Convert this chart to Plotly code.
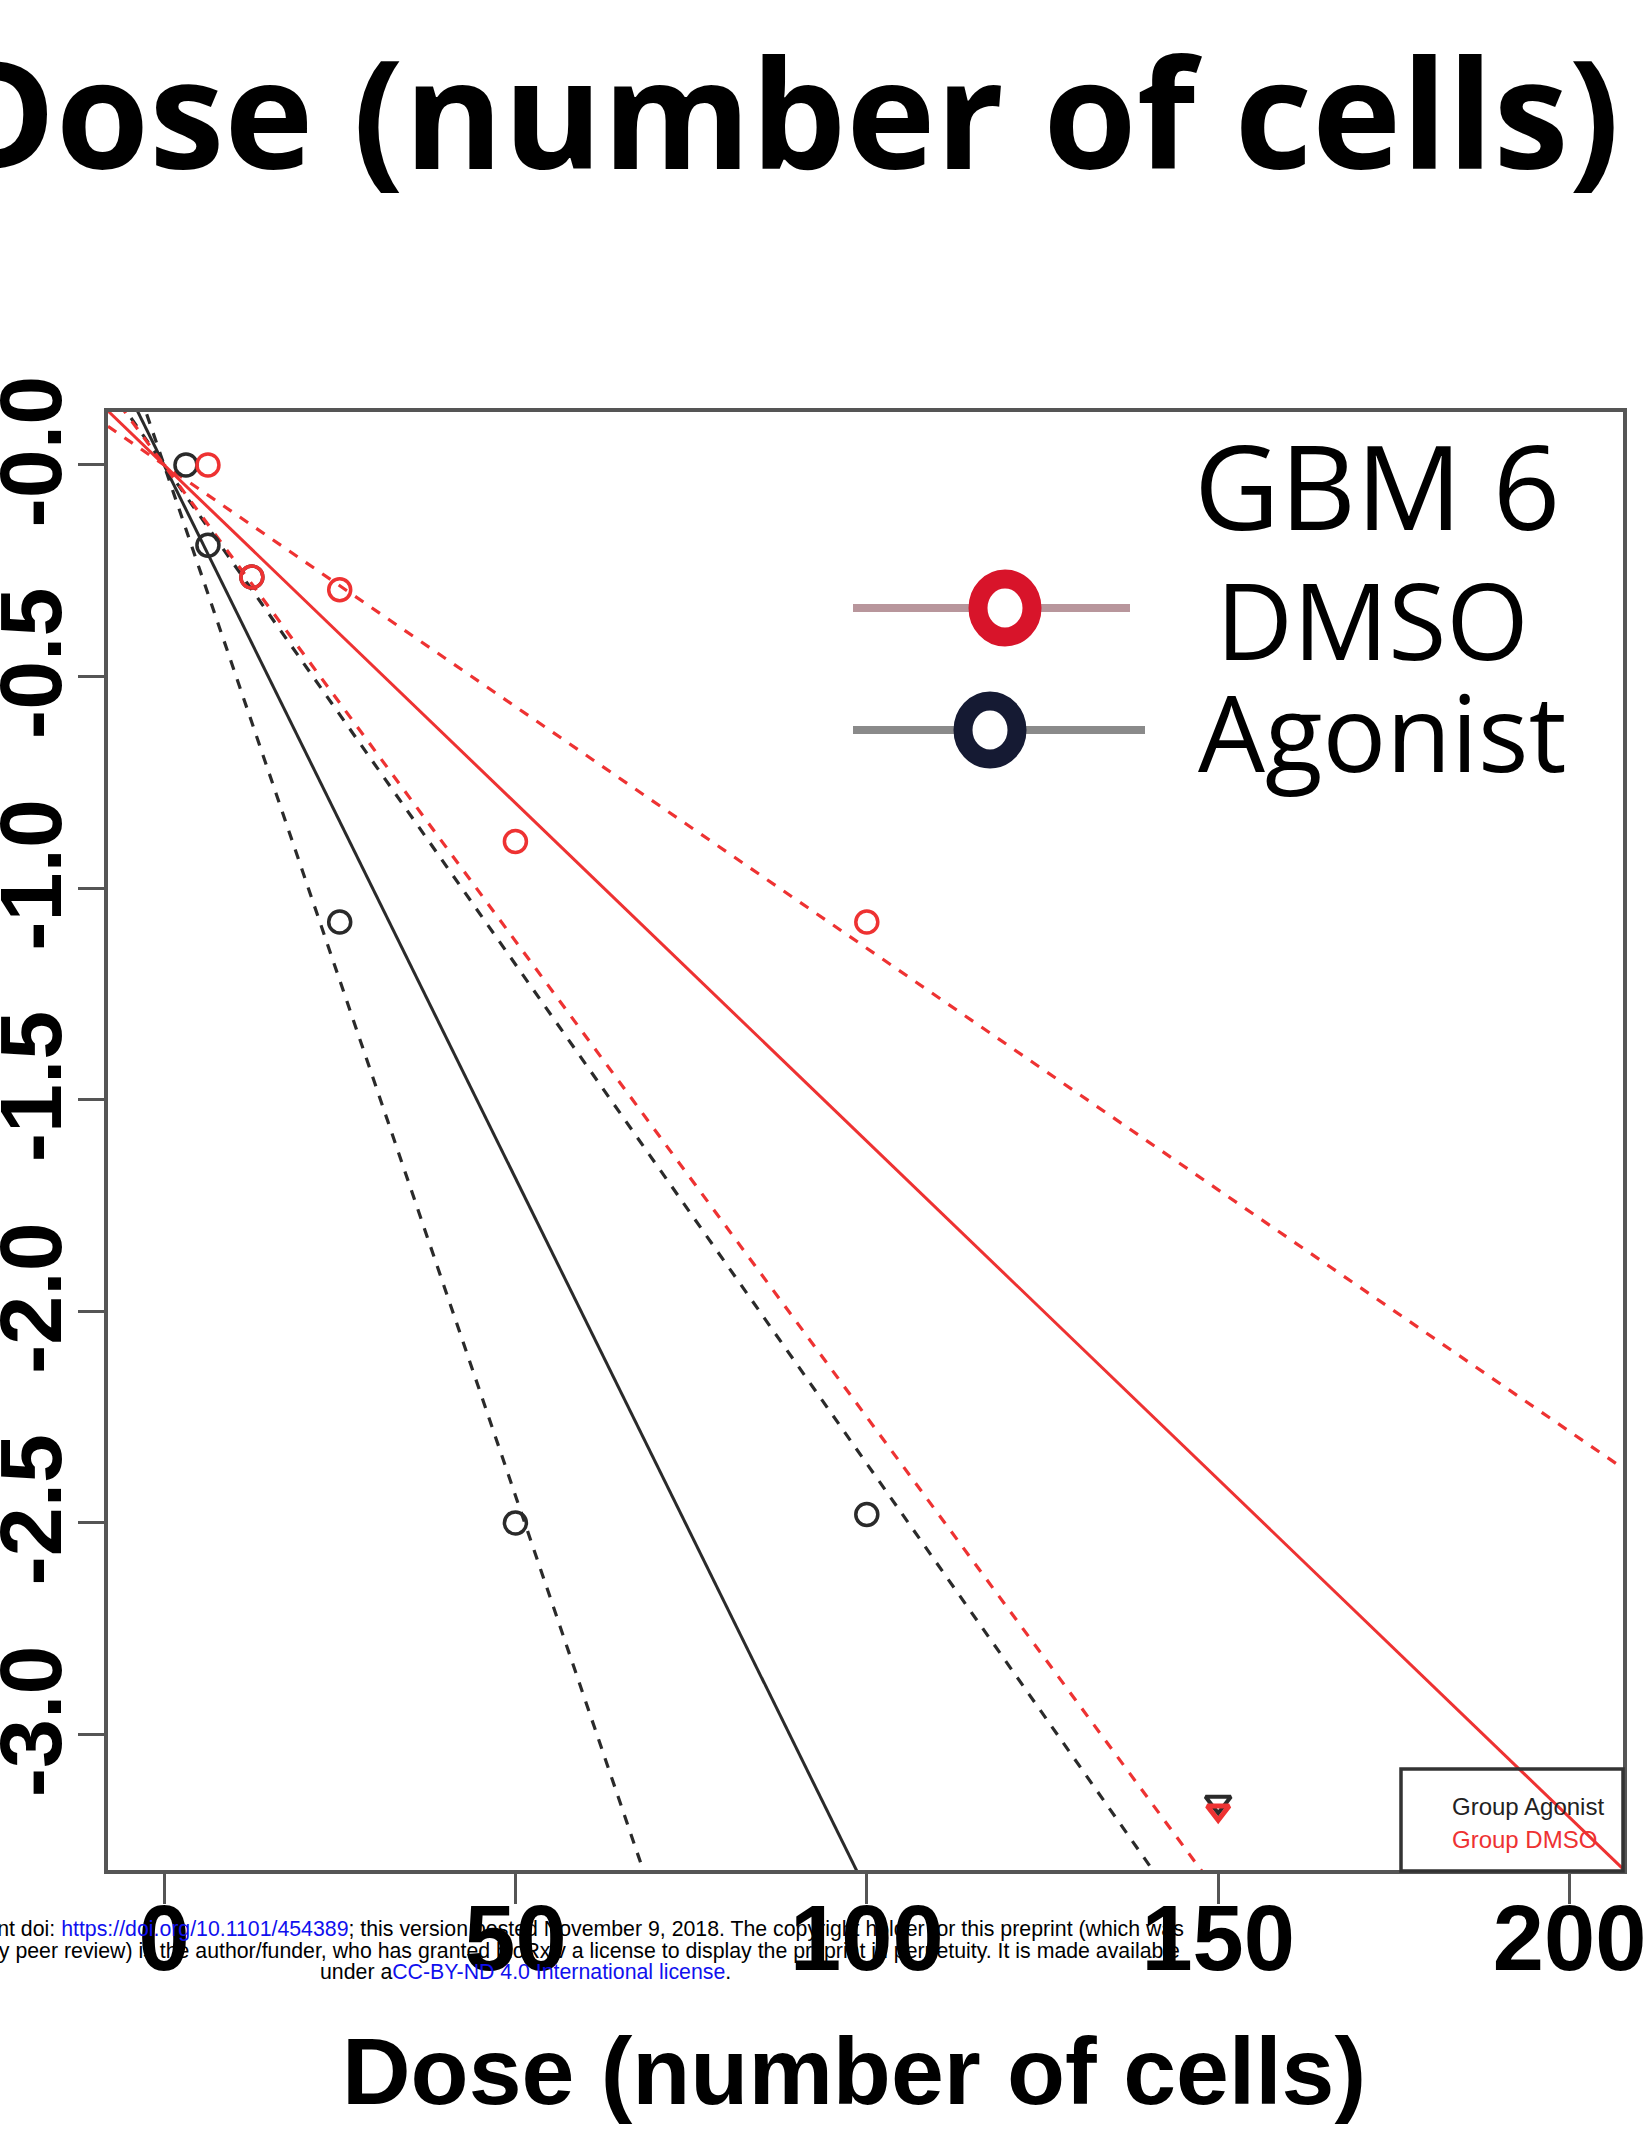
import plotly.graph_objects as go

# ---------------- data ----------------
dose_agonist = [3.125, 6.25, 12.5, 25, 50, 100]
logfrac_agonist = [0.0, -0.19, -0.265, -1.08, -2.50, -2.48]
dose_dmso = [6.25, 12.5, 25, 50, 100]
logfrac_dmso = [0.0, -0.265, -0.295, -0.89, -1.08]
dose_all_positive = [150]
floor_agonist = [-3.16]
floor_dmso = [-3.18]

# fitted slopes (log fraction non-responding per cell): estimate, lower CI, upper CI
slopes_agonist = {"est": -0.0337, "lo": -0.0487, "hi": -0.0236}
slopes_dmso = {"est": -0.01598, "lo": -0.0225, "hi": -0.01142}

x_ticks = [0, 50, 100, 150, 200]
y_ticks = [0, -0.5, -1.0, -1.5, -2.0, -2.5, -3.0]
y_ticktext = ["-0.0", "-0.5", "-1.0", "-1.5", "-2.0", "-2.5", "-3.0"]

title_text = "Dose (number of cells)"
xlabel_text = "Dose (number of cells)"
legend_title = "GBM 6"
legend_names = ["DMSO", "Agonist"]
small_legend = ["Group Agonist", "Group DMSO"]

# ---------------- layout geometry ----------------
W, H = 1647, 2143
L, R, T, B = 108, 24, 412, 273
x_range = [-7.97, 207.6]
y_range = [-3.32, 0.125]
PW = W - L - R
PH = H - T - B


def px_x(px):
    return (px - L) / PW


def px_y(py):
    return (H - B - py) / PH


RED = "#ee3232"
BLACK = "#2a2a2a"

fig = go.Figure()

xs = x_range
for slopes, col in [(slopes_agonist, BLACK), (slopes_dmso, RED)]:
    for key in ["lo", "hi"]:
        fig.add_trace(go.Scatter(x=xs, y=[slopes[key] * v for v in xs], mode="lines",
                                 line=dict(color=col, width=3.2, dash="10px,10px"),
                                 showlegend=False, hoverinfo="skip"))
    fig.add_trace(go.Scatter(x=xs, y=[slopes["est"] * v for v in xs], mode="lines",
                             line=dict(color=col, width=3),
                             showlegend=False, hoverinfo="skip"))

fig.add_trace(go.Scatter(x=dose_agonist, y=logfrac_agonist, mode="markers",
                         marker=dict(symbol="circle-open", size=22, color=BLACK,
                                     line=dict(width=3.5, color=BLACK)),
                         showlegend=False))
fig.add_trace(go.Scatter(x=dose_dmso, y=logfrac_dmso, mode="markers",
                         marker=dict(symbol="circle-open", size=22, color=RED,
                                     line=dict(width=3.5, color=RED)),
                         showlegend=False))
fig.add_trace(go.Scatter(x=dose_all_positive, y=floor_agonist, mode="markers",
                         marker=dict(symbol="triangle-down-open", size=22, color=BLACK,
                                     line=dict(width=4, color=BLACK)),
                         showlegend=False))
fig.add_trace(go.Scatter(x=dose_all_positive, y=floor_dmso, mode="markers",
                         marker=dict(symbol="triangle-down-open", size=19, color=RED,
                                     line=dict(width=5, color=RED)),
                         showlegend=False))

shapes = []
# big legend symbols
leg_rows = [
    dict(y=608, cx=1005, line="#b8969c", ring="#d8142a", x1=1130),
    dict(y=730, cx=990, line="#8a8a8a", ring="#151a33", x1=1145),
]
for row in leg_rows:
    shapes.append(dict(type="line", xref="paper", yref="paper",
                       x0=px_x(853), x1=px_x(row["x1"]), y0=px_y(row["y"]), y1=px_y(row["y"]),
                       line=dict(color=row["line"], width=8)))
    r = 27
    shapes.append(dict(type="circle", xref="paper", yref="paper",
                       x0=px_x(row["cx"] - r), x1=px_x(row["cx"] + r),
                       y0=px_y(row["y"] + r + 2), y1=px_y(row["y"] - r - 2),
                       fillcolor="white",
                       line=dict(color=row["ring"], width=19)))
# small legend box
shapes.append(dict(type="rect", xref="paper", yref="paper",
                   x0=px_x(1401), x1=px_x(1623), y0=px_y(1871), y1=px_y(1769),
                   line=dict(color="#333333", width=3.5)))

ann = []
ann.append(dict(text=f"<b>{title_text}</b>", xref="paper", yref="paper",
                x=px_x(1622), y=px_y(110), xanchor="right", yanchor="middle",
                showarrow=False, font=dict(family="Open Sans", size=151, color="black")))
ann.append(dict(text=f"<b>{xlabel_text}</b>", xref="paper", yref="paper",
                x=px_x(854), y=px_y(2071), xanchor="center", yanchor="middle",
                showarrow=False, font=dict(family="Liberation Sans", size=95, color="black")))
ann.append(dict(text=legend_title, xref="paper", yref="paper",
                x=px_x(1192), y=px_y(484), xanchor="left", yanchor="middle",
                showarrow=False, font=dict(family="Open Sans", size=118, color="black")))
ann.append(dict(text=legend_names[0], xref="paper", yref="paper",
                x=px_x(1214), y=px_y(619), xanchor="left", yanchor="middle",
                showarrow=False, font=dict(family="Open Sans", size=106, color="black")))
ann.append(dict(text=legend_names[1], xref="paper", yref="paper",
                x=px_x(1196), y=px_y(731), xanchor="left", yanchor="middle",
                showarrow=False, font=dict(family="Open Sans", size=106, color="black")))
ann.append(dict(text=small_legend[0], xref="paper", yref="paper",
                x=px_x(1450), y=px_y(1806), xanchor="left", yanchor="middle",
                showarrow=False, font=dict(family="Liberation Sans", size=24, color="#222222")))
ann.append(dict(text=small_legend[1], xref="paper", yref="paper",
                x=px_x(1450), y=px_y(1839), xanchor="left", yanchor="middle",
                showarrow=False, font=dict(family="Liberation Sans", size=24, color=RED)))

BLUE = "#1010ee"
wm_lines = [
    "bioRxiv preprint doi: <span style='color:" + BLUE + "'>https://doi.org/10.1101/454389</span>; this version posted November 9, 2018. The copyright holder for this preprint (which was",
    "not certified by peer review) is the author/funder, who has granted bioRxiv a license to display the preprint in perpetuity. It is made available",
    "under a<span style='color:" + BLUE + "'>CC-BY-ND 4.0 International license</span>.",
]
wm_y = [1929, 1951, 1972]
for t, yy in zip(wm_lines, wm_y):
    ann.append(dict(text=t, xref="paper", yref="paper", x=px_x(525), y=px_y(yy),
                    xanchor="center", yanchor="middle", showarrow=False,
                    font=dict(family="Liberation Sans", size=21.3, color="black")))

fig.update_layout(
    width=W, height=H, margin=dict(l=L, r=R, t=T, b=B, pad=0, autoexpand=False),
    paper_bgcolor="white", plot_bgcolor="white",
    shapes=shapes, annotations=ann, showlegend=False,
    xaxis=dict(range=x_range, tickvals=x_ticks, showgrid=False, zeroline=False,
               automargin=False,
               showline=True, mirror=True, linecolor="#555555", linewidth=4,
               ticks="outside", ticklen=30, tickwidth=3, tickcolor="#555555",
               tickfont=dict(family="Liberation Sans", size=92, color="black", weight="bold"),
               ticklabelstandoff=-44),
    yaxis=dict(range=y_range, tickvals=y_ticks, ticktext=y_ticktext, showgrid=False,
               zeroline=False, automargin=False,
               showline=True, mirror=True, linecolor="#555555", linewidth=4,
               ticks="outside", ticklen=26, tickwidth=3, tickcolor="#555555", tickangle=-90,
               tickfont=dict(family="Liberation Sans", size=88, color="black", weight="bold"),
               ticklabelstandoff=-18),
)

fig.write_html("out.html", config={"displayModeBar": False},
               post_script="document.body.style.margin='0';document.body.style.padding='0';")
